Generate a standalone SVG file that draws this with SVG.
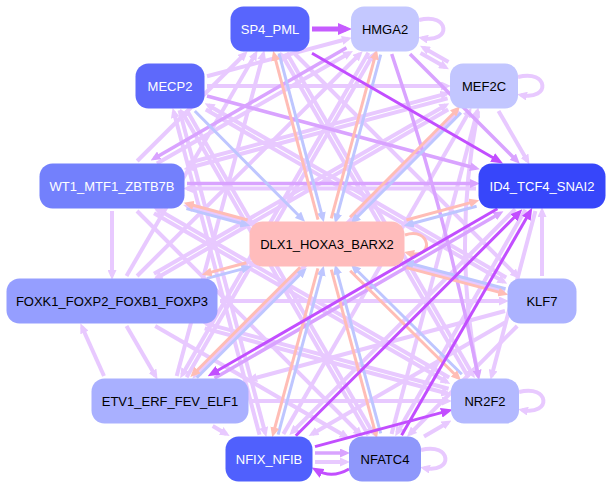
<svg xmlns="http://www.w3.org/2000/svg" width="613" height="489" viewBox="0 0 613 489">
<style>
.e{fill:none;stroke-linecap:butt}
.c1{stroke:#e8c9ff;stroke-width:4;marker-end:url(#a1)}
.c2{stroke:#d9a3ff;stroke-width:3.5;marker-end:url(#a2)}
.c3{stroke:#c24eff;stroke-width:3;marker-end:url(#a3)}
.c4{stroke:#c65cff;stroke-width:5;marker-end:url(#a4)}
.p{stroke:#ffbdb6;stroke-width:3;marker-end:url(#ap)}
.b{stroke:#bec6ff;stroke-width:3;marker-end:url(#ab)}
text{font-family:"Liberation Sans",Arial,sans-serif;font-size:13px;text-anchor:middle}
.w{fill:#ffffff}.k{fill:#000000}
</style>
<defs>
<marker id="a1" viewBox="0 0 10 9" refX="6" refY="4.5" markerWidth="10" markerHeight="9" markerUnits="userSpaceOnUse" orient="auto"><path d="M0,0L10,4.5L0,9z" fill="#e8c9ff"/></marker>
<marker id="a2" viewBox="0 0 10 9" refX="6" refY="4.5" markerWidth="10" markerHeight="9" markerUnits="userSpaceOnUse" orient="auto"><path d="M0,0L10,4.5L0,9z" fill="#d9a3ff"/></marker>
<marker id="a3" viewBox="0 0 12 10" refX="7" refY="5" markerWidth="12" markerHeight="10" markerUnits="userSpaceOnUse" orient="auto"><path d="M0,0L12,5L0,10z" fill="#c24eff"/></marker>
<marker id="a4" viewBox="0 0 14 12" refX="8" refY="6" markerWidth="14" markerHeight="12" markerUnits="userSpaceOnUse" orient="auto"><path d="M0,0L14,6L0,12z" fill="#c65cff"/></marker>
<marker id="ap" viewBox="0 0 10 9" refX="6" refY="4.5" markerWidth="10" markerHeight="9" markerUnits="userSpaceOnUse" orient="auto"><path d="M0,0L10,4.5L0,9z" fill="#ffbdb6"/></marker>
<marker id="ab" viewBox="0 0 10 9" refX="6" refY="4.5" markerWidth="10" markerHeight="9" markerUnits="userSpaceOnUse" orient="auto"><path d="M0,0L10,4.5L0,9z" fill="#bec6ff"/></marker>
</defs>
<g id="edges">
<path class="e c1" d="M419,20 C450,12 452,44 422,38"/>
<path class="e c1" d="M518,77 C549,69 551,101 521,95"/>
<path class="e c1" d="M519,392 C550,384 552,416 522,410"/>
<path class="e c1" d="M421,450 C452,442 454,474 424,468"/>
<path class="e c1" d="M420.5,52.9 L445.5,67.3"/>
<path class="e c1" d="M448.5,62.1 L423.5,47.7"/>
<path class="e c1" d="M207,76.2 L348,38.8"/>
<path class="e c1" d="M207,86 L447,86"/>
<path class="e c1" d="M498.5,111 L527.5,161"/>
<path class="e c1" d="M542,276 L542,211"/>
<path class="e c1" d="M112,211 L112,276"/>
<path class="e c1" d="M220,301 L505,301"/>
<path class="e c1" d="M251,401 L448,401"/>
<path class="e c1" d="M424,436.4 L448,422.5"/>
<path class="e c1" d="M212.7,426 L226.3,434"/>
<path class="e c1" d="M126.5,326 L155.5,376"/>
<path class="e c1" d="M104,376 L82,327"/>
<path class="e c1" d="M156.9,163.6 L349.5,52.9"/>
<path class="e c1" d="M205.8,109.6 L503.8,281.8"/>
<path class="e c1" d="M506.2,277.4 L208.2,105.2"/>
<path class="e c1" d="M126.5,276 L255.5,54"/>
<path class="e c1" d="M176.7,376 L263.3,54"/>
<path class="e c1" d="M137.2,161 L244.8,54"/>
<path class="e c1" d="M286.6,52.8 L472.8,374.8"/>
<path class="e c1" d="M468.4,377.2 L282.2,55.2"/>
<path class="e c1" d="M137.1,276 L359.9,54"/>
<path class="e c1" d="M186.6,377.2 L372.8,55.2"/>
<path class="e c1" d="M368.4,52.8 L182.2,374.8"/>
<path class="e c1" d="M478,111 Q452,245 478,376"/>
<path class="e c1" d="M186.6,109.8 L372.8,432.8"/>
<path class="e c1" d="M368.4,435.2 L182.2,112.2"/>
<path class="e c1" d="M179.5,110.2 L265.3,433.2"/>
<path class="e c1" d="M259.5,434.8 L173.7,111.8"/>
<path class="e c1" d="M448.2,109.6 L156.4,278.2"/>
<path class="e c1" d="M154,273.8 L445.8,105.2"/>
<path class="e c1" d="M459.1,111 L195.1,376"/>
<path class="e c1" d="M505,311 L251,379.2"/>
<path class="e c1" d="M448.6,388.7 L206,323.6"/>
<path class="e c1" d="M204.7,328.4 L447.4,393.5"/>
<path class="e c1" d="M449.2,377.5 L156.5,208.8"/>
<path class="e c1" d="M154,213.2 L446.8,381.9"/>
<path class="e c1" d="M505,291.1 L187,206"/>
<path class="e c1" d="M447.6,98.4 L187.4,168.3"/>
<path class="e c1" d="M186.2,163.5 L446.4,93.6"/>
<path class="e c1" d="M295,54 L517,276"/>
<path class="e c1" d="M283.4,434 L469.6,111"/>
<path class="e c1" d="M391.6,434 L477.4,111"/>
<path class="e c1" d="M137,211 L360,434"/>
<path class="e c1" d="M155.2,326 L346,436.4"/>
<path class="e c1" d="M515.2,209.2 L292.2,432.2"/>
<path class="e c1" d="M505,322.4 L312.1,434"/>
<path class="e c1" d="M517.2,326 L409.8,434"/>
<path class="e c1" d="M535.4,211 L491.6,376"/>
<path class="e c1" d="M525.4,209.8 L397.2,432.8"/>
<path class="e c1" d="M476,188.5 L187,188.5"/>
<path class="e c1" d="M315,462 L346,462"/>
<path class="e c2" d="M207,96 L476,168.3"/>
<path class="e c2" d="M410,54 L517,161"/>
<path class="e c2" d="M187,183.5 L476,183.5"/>
<path class="e c2" d="M214.5,378.2 L500,213.2"/>
<path class="e c2" d="M346.5,47.7 L154.1,158.4"/>
<path class="e c2" d="M391.7,54 Q445,210 478.3,376"/>
<path class="e c2" d="M315,453 L346,453"/>
<path class="e b" d="M279,53.4 L322.8,218.4"/>
<path class="e p" d="M318,219.6 L274.2,54.6"/>
<path class="e b" d="M380.7,54.7 L336.1,219.7"/>
<path class="e p" d="M331.3,218.4 L375.9,53.4"/>
<path class="e b" d="M194.8,111 L302.2,219"/>
<path class="e b" d="M461,112.8 L353.6,220.8"/>
<path class="e p" d="M350,217.2 L457.4,109.2"/>
<path class="e b" d="M186.4,208.6 L246.4,224.8"/>
<path class="e p" d="M247.6,220 L187.6,203.8"/>
<path class="e b" d="M206.9,278.4 L247.6,267.6"/>
<path class="e p" d="M246.4,262.8 L205.7,273.6"/>
<path class="e b" d="M476.6,206.2 L407.6,224.8"/>
<path class="e p" d="M406.4,220 L475.4,201.4"/>
<path class="e b" d="M505.6,288.8 L407.6,262.8"/>
<path class="e p" d="M406.4,267.6 L504.4,293.6"/>
<path class="e b" d="M196.8,377.8 L303.8,270.8"/>
<path class="e p" d="M300.2,267.2 L193.2,374.2"/>
<path class="e b" d="M461.8,374.2 L353.8,267.2"/>
<path class="e p" d="M350.2,270.8 L458.2,377.8"/>
<path class="e b" d="M278.1,434.7 L322.7,269.7"/>
<path class="e p" d="M317.9,268.4 L273.3,433.4"/>
<path class="e b" d="M380.7,433.4 L336.1,268.4"/>
<path class="e p" d="M331.3,269.6 L375.9,434.6"/>
<path class="e p" d="M405,235 C430,226 436,260 408,253"/>
<path class="e c3" d="M312,53.3 L498.7,161"/>
<path class="e c3" d="M295.8,435.8 L518.8,212.8"/>
<path class="e c3" d="M401.6,435.2 L529.8,212.2"/>
<path class="e c3" d="M497.4,208.8 L212,373.8"/>
<path class="e c3" d="M315,446.6 L448,410.9"/>
<path class="e c3" d="M349,469 Q332,479 316,470"/>
<path class="e c4" d="M312,29 L346,29"/>
</g>
<g id="n-sp4"><rect x="230.5" y="6.5" width="79" height="45" rx="13" fill="#5865fd"/><text class="w" x="270" y="33.5">SP4_PML</text></g>
<g id="n-hmga2"><rect x="351" y="6.5" width="68" height="45" rx="13" fill="#c4c8ff"/><text class="k" x="385" y="33.5">HMGA2</text></g>
<g id="n-mecp2"><rect x="135.5" y="63.5" width="69" height="45" rx="13" fill="#5e69fb"/><text class="w" x="170" y="90.5">MECP2</text></g>
<g id="n-mef2c"><rect x="450" y="63.5" width="68" height="45" rx="13" fill="#c2c6ff"/><text class="k" x="484" y="90.5">MEF2C</text></g>
<g id="n-wt1"><rect x="39.5" y="163.5" width="145" height="45" rx="13" fill="#7380fc"/><text class="w" x="112" y="190.5">WT1_MTF1_ZBTB7B</text></g>
<g id="n-id4"><rect x="478.5" y="163.5" width="127" height="45" rx="13" fill="#3746fa"/><text class="w" x="542" y="190.5">ID4_TCF4_SNAI2</text></g>
<g id="n-dlx1"><rect x="249.5" y="221.5" width="155" height="45" rx="13" fill="#ffbcbc"/><text class="k" x="327" y="248.5">DLX1_HOXA3_BARX2</text></g>
<g id="n-foxk1"><rect x="6.5" y="278.5" width="211" height="45" rx="13" fill="#959eff"/><text class="k" x="112" y="305.5">FOXK1_FOXP2_FOXB1_FOXP3</text></g>
<g id="n-klf7"><rect x="507.5" y="278.5" width="69" height="45" rx="13" fill="#abb2ff"/><text class="k" x="542" y="305.5">KLF7</text></g>
<g id="n-etv1"><rect x="91.5" y="378.5" width="157" height="45" rx="13" fill="#a9b0ff"/><text class="k" x="170" y="405.5">ETV1_ERF_FEV_ELF1</text></g>
<g id="n-nr2f2"><rect x="451" y="378.5" width="68" height="45" rx="13" fill="#b3b9ff"/><text class="k" x="485" y="405.5">NR2F2</text></g>
<g id="n-nfix"><rect x="225.5" y="436.5" width="87" height="45" rx="13" fill="#5060fd"/><text class="w" x="269" y="463.5">NFIX_NFIB</text></g>
<g id="n-nfatc4"><rect x="349" y="436.5" width="72" height="45" rx="13" fill="#8e97fb"/><text class="k" x="385" y="463.5">NFATC4</text></g>
</svg>
